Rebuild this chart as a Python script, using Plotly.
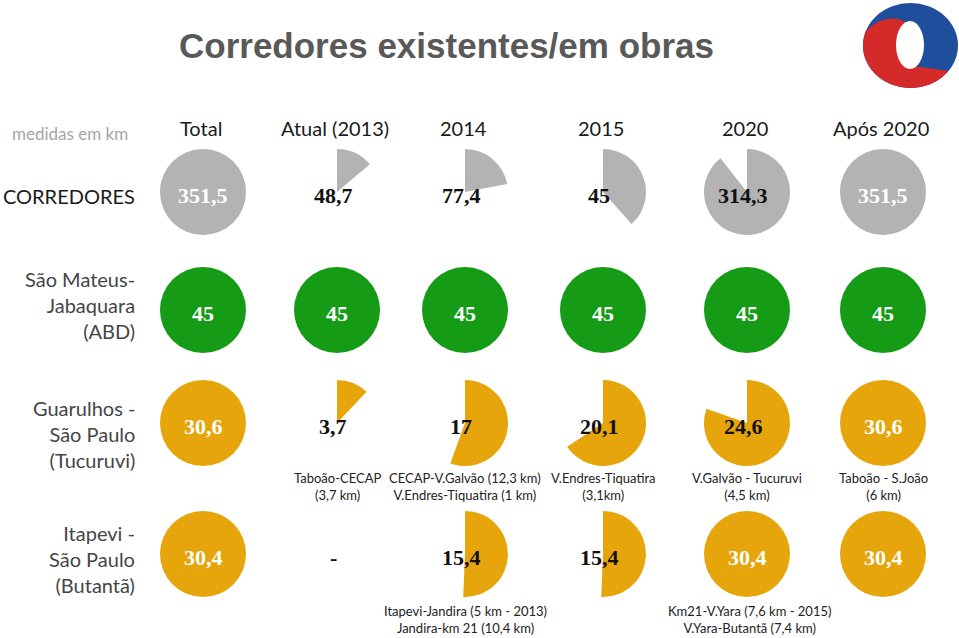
import math
import plotly.graph_objects as go

W, H = 959, 638

columns = ["Total", "Atual (2013)", "2014", "2015", "2020", "Após 2020"]
col_x = [203, 337, 465, 603, 747, 883]

rows = ["CORREDORES", "São Mateus-<br>Jabaquara<br>(ABD)", "Guarulhos -<br>São Paulo<br>(Tucuruvi)", "Itapevi -<br>São Paulo<br>(Butantã)"]
row_y = [192, 310, 423, 554]

corredores_vals = [351.5, 48.7, 77.4, 135.0, 314.3, 351.5]
corredores_lbl = ["351,5", "48,7", "77,4", "45", "314,3", "351,5"]
abd_vals = [45, 45, 45, 45, 45, 45]
abd_lbl = ["45", "45", "45", "45", "45", "45"]
guar_vals = [30.6, 3.7, 17, 20.1, 24.6, 30.6]
guar_lbl = ["30,6", "3,7", "17", "20,1", "24,6", "30,6"]
itap_vals = [30.4, 0, 15.4, 15.4, 30.4, 30.4]
itap_lbl = ["30,4", "-", "15,4", "15,4", "30,4", "30,4"]

guar_notes = ["", "Taboão-CECAP<br>(3,7 km)", "CECAP-V.Galvão (12,3 km)<br>V.Endres-Tiquatira (1 km)",
              "V.Endres-Tiquatira<br>(3,1km)", "V.Galvão - Tucuruvi<br>(4,5 km)", "Taboão - S.João<br>(6 km)"]
itap_notes = ["", "", "Itapevi-Jandira (5 km - 2013)<br>Jandira-km 21 (10,4 km)", "",
              "Km21-V.Yara (7,6 km - 2015)<br>V.Yara-Butantã (7,4 km)", ""]

series = [
    (corredores_vals, corredores_lbl, "#b3b3b3"),
    (abd_vals, abd_lbl, "#169b16"),
    (guar_vals, guar_lbl, "#e6a50a"),
    (itap_vals, itap_lbl, "#e6a50a"),
]

R = 43
fig = go.Figure()
annotations = []

for ri, (vals, lbls, color) in enumerate(series):
    total = vals[0]
    cy = row_y[ri]
    for ci, v in enumerate(vals):
        cx = col_x[ci]
        fig.add_trace(go.Pie(
            values=[v, total - v],
            marker=dict(colors=[color, "rgba(0,0,0,0)"], line=dict(width=0)),
            sort=False, direction="clockwise", rotation=0,
            textinfo="none", hoverinfo="skip", showlegend=False,
            domain=dict(x=[(cx - R) / W, (cx + R) / W], y=[1 - (cy + R) / H, 1 - (cy - R) / H]),
        ))
        full = v >= total
        annotations.append(dict(
            x=cx - (4 if not full else 0), y=cy + 3, xref="x", yref="y", text="<b>%s</b>" % lbls[ci],
            showarrow=False,
            font=dict(family="Liberation Serif", size=22, color="white" if full else "#111111"),
        ))

# headers
for ci, c in enumerate(columns):
    annotations.append(dict(x=col_x[ci] - 2, y=128, xref="x", yref="y", text=c, showarrow=False,
                            font=dict(family="Lato", size=20, color="#1a1a1a")))
annotations.append(dict(x=130, y=133, xref="x", yref="y", text="medidas em km", showarrow=False,
                        xanchor="right", font=dict(family="Lato", size=17, color="#a6a6a6")))

# row labels
annotations.append(dict(x=137, y=196, xref="x", yref="y", text=rows[0], showarrow=False, xanchor="right",
                        font=dict(family="Lato", size=20, color="#1a1a1a")))
for ri in range(1, 4):
    annotations.append(dict(x=137, y=row_y[ri] - 5 if ri == 1 else row_y[ri] + 11 if ri == 2 else row_y[ri] + 5,
                            xref="x", yref="y", text=rows[ri], showarrow=False,
                            xanchor="right", align="right",
                            font=dict(family="Lato", size=20, color="#454545")))

# notes
for ci, n in enumerate(guar_notes):
    if n:
        annotations.append(dict(x=col_x[ci], y=486, xref="x", yref="y", text=n, showarrow=False,
                                font=dict(family="Lato", size=13, color="#222222")))
for ci, n in enumerate(itap_notes):
    if n:
        annotations.append(dict(x=col_x[ci] + (2 if ci == 4 else 0), y=619, xref="x", yref="y", text=n, showarrow=False,
                                font=dict(family="Lato", size=13, color="#222222")))

# title
annotations.append(dict(x=446, y=45, xref="x", yref="y", text="<b>Corredores existentes/em obras</b>",
                        showarrow=False, font=dict(family="Liberation Sans", size=35, color="#595959")))

# logo: blue ring with red crescent on lower-left
lcx, lcy, lrx, lry = 910.5, 45.5, 47.5, 42.5
pts = []
for k in range(0, 41):
    a = math.radians(200 - (200 - 37) * k / 40)
    pts.append((lcx + lrx * math.cos(a), lcy + lry * math.sin(a)))
red_path = "M %.1f,%.1f " % pts[0] + " ".join("L %.1f,%.1f" % p for p in pts[1:])
red_path += " Q 930,68 912,66 L 906,22 Q 885,12 %.1f,%.1f Z" % pts[0]

shapes = [
    dict(type="circle", xref="x", yref="y", x0=863, x1=958, y0=3, y1=88, fillcolor="#1f4e9c", line=dict(width=0)),
    dict(type="path", xref="x", yref="y", path=red_path, fillcolor="#d42a2a", line=dict(width=0)),
    dict(type="circle", xref="x", yref="y", x0=896, x1=924, y0=21, y1=69, fillcolor="white", line=dict(width=0)),
]

fig.update_layout(
    width=W, height=H, margin=dict(l=0, r=0, t=0, b=0),
    paper_bgcolor="white", plot_bgcolor="rgba(0,0,0,0)",
    xaxis=dict(range=[0, W], visible=False, fixedrange=True),
    yaxis=dict(range=[H, 0], visible=False, fixedrange=True),
    annotations=annotations, shapes=shapes,
)
fig.write_html("out.html", config={"displayModeBar": False},
               post_script="document.body.style.margin='0';document.body.style.overflow='hidden';")
